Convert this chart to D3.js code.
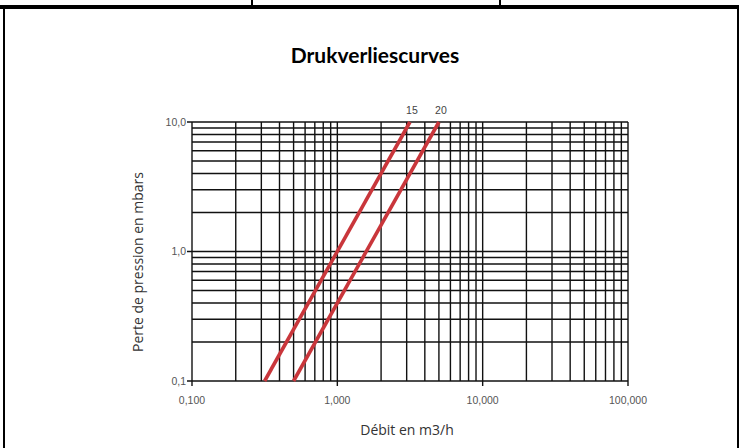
<!DOCTYPE html>
<html>
<head>
<meta charset="utf-8">
<script src="https://cdn.jsdelivr.net/npm/d3@7"></script>
<style>
  body { margin: 0; background: #fff; }
  svg { display: block; }
</style>
</head>
<body>
<svg id="chart" width="739" height="448"></svg>
<script>
// values
const xTicks = [0.1, 1, 10, 100];
const xTickLabels = ['0,100', '1,000', '10,000', '100,000'];
const yTicks = [0.1, 1, 10];
const yTickLabels = ['0,1', '1,0', '10,0'];
const seriesNames = ['15', '20'];
const flow15 = [0.316, 3.16];
const flow20 = [0.5, 5.0];
const pressure = [0.1, 10];

const svg = d3.select('#chart');
const W = 739, H = 448;
const plotL = 192, plotR = 628, plotT = 122, plotB = 381;

svg.append('rect').attr('width', W).attr('height', H).attr('fill', '#fff');

// table borders
svg.append('rect').attr('x', 0).attr('y', 5).attr('width', W).attr('height', 4).attr('fill', '#000');
svg.append('rect').attr('x', 3).attr('y', 5).attr('width', 2).attr('height', H - 5).attr('fill', '#000');
svg.append('rect').attr('x', 737).attr('y', 5).attr('width', 2).attr('height', H - 5).attr('fill', '#000');
[252, 500].forEach(x => {
  svg.append('rect').attr('x', x - 1).attr('y', 0).attr('width', 2).attr('height', 6).attr('fill', '#000');
});

svg.append('text')
  .attr('x', 375).attr('y', 63)
  .attr('text-anchor', 'middle')
  .attr('font-family', 'Lato, "Open Sans", sans-serif')
  .attr('font-weight', 'bold')
  .attr('font-size', '21px')
  .attr('fill', '#000')
  .text('Drukverliescurves');

const x = d3.scaleLog().domain([0.1, 100]).range([plotL, plotR]);
const y = d3.scaleLog().domain([0.1, 10]).range([plotB, plotT]);

const g = svg.append('g');

// grid
const xGrid = x.ticks();
const yGrid = y.ticks();
g.selectAll('.vg').data(xGrid).enter().append('line')
  .attr('x1', d => x(d)).attr('x2', d => x(d))
  .attr('y1', plotT).attr('y2', d => xTicks.includes(d) ? plotB + 5 : plotB)
  .attr('stroke', '#111').attr('stroke-width', 1.4);
g.selectAll('.hg').data(yGrid).enter().append('line')
  .attr('x1', d => yTicks.includes(d) ? plotL - 5 : plotL).attr('x2', plotR)
  .attr('y1', d => y(d)).attr('y2', d => y(d))
  .attr('stroke', '#111').attr('stroke-width', 1.4);

// tick labels
g.selectAll('.xl').data(xTicks).enter().append('text')
  .attr('x', d => x(d)).attr('y', 404)
  .attr('text-anchor', 'middle')
  .attr('font-family', '"Liberation Sans", Arial, sans-serif')
  .attr('font-size', '10.5px').attr('fill', '#555')
  .text((d, i) => xTickLabels[i]);
g.selectAll('.yl').data(yTicks).enter().append('text')
  .attr('x', plotL - 6).attr('y', d => y(d)).attr('dy', '0.35em')
  .attr('text-anchor', 'end')
  .attr('font-family', '"Liberation Sans", Arial, sans-serif')
  .attr('font-size', '10.5px').attr('fill', '#555')
  .text((d, i) => yTickLabels[i]);

// axis titles
svg.append('text')
  .attr('x', 407).attr('y', 435)
  .attr('text-anchor', 'middle')
  .attr('font-family', '"Open Sans", sans-serif')
  .attr('font-size', '14px').attr('fill', '#333')
  .text('Débit en m3/h');
svg.append('text')
  .attr('transform', 'translate(143,262) rotate(-90)')
  .attr('text-anchor', 'middle')
  .attr('font-family', '"Open Sans", sans-serif')
  .attr('font-size', '14px').attr('fill', '#333')
  .text('Perte de pression en mbars');

// curves
const series = [flow15, flow20].map((f, i) => ({
  name: seriesNames[i],
  pts: f.map((q, j) => [q, pressure[j]])
}));
const line = d3.line().x(d => x(d[0])).y(d => y(d[1]));
g.selectAll('.curve').data(series).enter().append('path')
  .attr('d', d => line(d.pts))
  .attr('fill', 'none')
  .attr('stroke', '#c9363b')
  .attr('stroke-width', 3.6);

g.selectAll('.cl').data(series).enter().append('text')
  .attr('x', d => x(d.pts[1][0]) + 2)
  .attr('y', plotT - 8)
  .attr('text-anchor', 'middle')
  .attr('font-family', '"Liberation Sans", Arial, sans-serif')
  .attr('font-size', '10.5px').attr('fill', '#444')
  .text(d => d.name);
</script>
</body>
</html>
